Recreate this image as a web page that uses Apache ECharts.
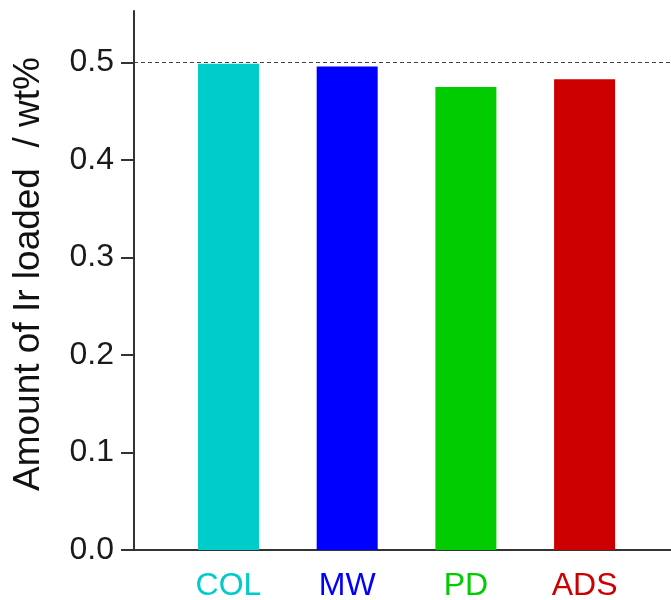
<!DOCTYPE html>
<html>
<head>
<meta charset="utf-8">
<script src="https://cdn.jsdelivr.net/npm/echarts@6/dist/echarts.min.js"></script>
<style>
  html, body { margin: 0; padding: 0; background: #fff; }
  #chart { width: 671px; height: 600px; }
</style>
</head>
<body>
<div id="chart"></div>
<script>
var categories = ['COL', 'MW', 'PD', 'ADS'];
var loaded = [0.499, 0.496, 0.475, 0.483];
var colors = ['#00cccc', '#0000ff', '#00cc00', '#cc0000'];
var yTicks = [0, 0.1, 0.2, 0.3, 0.4, 0.5];
var refLine = 0.5;

// bars sit at positions 1..4 on a value axis so the left padding can differ from the band width
var barData = categories.map(function (c, i) {
    return {
        value: [i + 1, loaded[i]],
        itemStyle: {color: colors[i]}
    };
});

var rich = {};
categories.forEach(function (c, i) {
    rich['c' + i] = {color: colors[i], fontSize: 32, fontFamily: 'Liberation Sans'};
});

var chart = echarts.init(document.getElementById('chart'), null, {renderer: 'canvas'});
var option = {
    animation: false,
    backgroundColor: '#fff',
    grid: {left: 134, right: 0, top: 11, bottom: 50, containLabel: false, outerBoundsMode: 'none'},
    xAxis: [
        {
            type: 'value',
            min: 0.204,
            max: 4.728,
            splitLine: {show: false},
            axisTick: {show: false},
            axisLine: {show: true, onZero: false, lineStyle: {color: '#333', width: 2}},
            axisLabel: {
                customValues: [1, 2, 3, 4],
                margin: 20,
                formatter: function (v) {
                    var i = Math.round(v) - 1;
                    return '{c' + i + '|' + categories[i] + '}';
                },
                rich: rich
            }
        },
        {
            type: 'value',
            position: 'top',
            min: 0.204,
            max: 4.728,
            splitLine: {show: false},
            axisTick: {show: false},
            axisLabel: {show: false},
            axisLine: {show: true, lineStyle: {color: '#333', width: 2}}
        }
    ],
    yAxis: {
        type: 'value',
        min: 0,
        max: 0.553,
        interval: 0.1,
        name: 'Amount of Ir loaded  / wt%',
        nameLocation: 'middle',
        nameGap: 87,
        nameTextStyle: {fontSize: 37, color: '#111', fontFamily: 'Liberation Sans', padding: [0, 0, 0, 13]},
        splitLine: {show: false},
        axisLine: {show: true, lineStyle: {color: '#333', width: 2}},
        axisTick: {show: true, length: 13, lineStyle: {color: '#333', width: 2},
            customValues: yTicks},
        axisLabel: {
            customValues: yTicks,
            margin: 20,
            fontSize: 32,
            color: '#1a1a1a',
            fontFamily: 'Liberation Sans',
            formatter: function (v) { return v.toFixed(1); }
        }
    },
    series: [
        {
            type: 'bar',
            data: barData,
            barWidth: 61,
            markLine: {
                silent: true,
                symbol: 'none',
                label: {show: false},
                lineStyle: {type: [4, 3], color: '#444', width: 1},
                data: [{yAxis: refLine}]
            }
        }
    ]
};
chart.setOption(option);
</script>
</body>
</html>
